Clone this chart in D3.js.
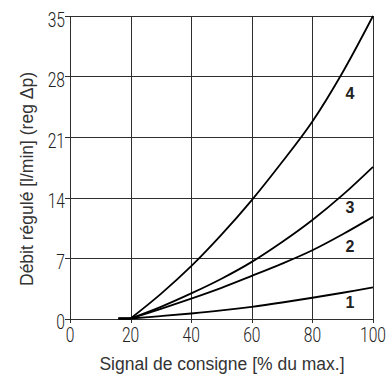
<!DOCTYPE html>
<html>
<head>
<meta charset="utf-8">
<script src="https://cdn.jsdelivr.net/npm/d3@7/dist/d3.min.js"></script>
<style>
  html, body { margin: 0; padding: 0; background: #fff; }
  svg { display: block; }
</style>
</head>
<body>
<svg id="chart" width="387" height="376"></svg>
<script>
// ---- data ----
const xSignal = [16, 20, 30, 40, 50, 60, 70, 80, 90, 100];
const curve1 = [0, 0, 0.28, 0.58, 0.93, 1.35, 1.85, 2.4, 2.98, 3.6];
const curve2 = [0, 0, 1.12, 2.3, 3.55, 4.93, 6.35, 7.9, 9.75, 11.76];
const curve3 = [0, 0, 1.35, 2.9, 4.6, 6.55, 8.85, 11.4, 14.3, 17.55];
const curve4 = [0, 0, 2.85, 6.05, 9.7, 13.7, 18.1, 22.8, 28.5, 35];
const seriesNames = ["1", "2", "3", "4"];
const xTicks = [0, 20, 40, 60, 80, 100];
const yTicks = [0, 7, 14, 21, 28, 35];
const xTitle = "Signal de consigne [% du max.]";
const yTitle = "Débit régulé [l/min] (reg Δp)";

const series = [curve1, curve2, curve3, curve4];

const svg = d3.select("#chart");
const x = d3.scaleLinear().domain([0, 100]).range([70, 373]);
const y = d3.scaleLinear().domain([0, 35]).range([318.5, 16]);

const grid = svg.append("g").attr("shape-rendering", "crispEdges");
grid.selectAll("line.h").data(yTicks).join("line")
  .attr("x1", d => x(0) - 5).attr("x2", x(100))
  .attr("y1", d => Math.round(y(d)) + 0.5).attr("y2", d => Math.round(y(d)) + 0.5)
  .attr("stroke", "#2e2e2e").attr("stroke-width", 1);
grid.selectAll("line.v").data(xTicks).join("line")
  .attr("y1", y(35)).attr("y2", y(0) + 4)
  .attr("x1", d => Math.round(x(d)) + 0.5).attr("x2", d => Math.round(x(d)) + 0.5)
  .attr("stroke", "#2e2e2e").attr("stroke-width", 1);

const tickFont = "Roboto, 'Liberation Sans Narrow', sans-serif";
svg.append("g").selectAll("text").data(yTicks).join("text")
  .attr("transform", d => `translate(${x(0) - 5},${y(d) + 10.5}) scale(0.78,1)`)
  .attr("text-anchor", "end")
  .attr("font-family", tickFont).attr("font-weight", 300)
  .attr("font-size", 20).attr("fill", "#222")
  .text(d => d);
svg.append("g").selectAll("text").data(xTicks).join("text")
  .attr("transform", d => `translate(${x(d)},${y(0) + 23}) scale(0.78,1)`)
  .attr("text-anchor", "middle")
  .attr("font-family", tickFont).attr("font-weight", 300)
  .attr("font-size", 20).attr("fill", "#222")
  .text(d => d);

// curves: straight lead-in tail, then smooth curve from the divergence point
const tail = d3.line().x((d, i) => x(xSignal[i])).y(d => y(d));
const smooth = d3.line()
  .x((d, i) => x(xSignal[i + 1]))
  .y(d => y(d))
  .curve(d3.curveCatmullRom.alpha(0.5));
const cg = svg.append("g").attr("fill", "none").attr("stroke", "#000")
  .attr("stroke-width", 1.8).attr("stroke-linejoin", "round");
cg.selectAll("path.t").data(series).join("path")
  .attr("d", d => tail(d.slice(0, 2)));
cg.selectAll("path.s").data(series).join("path")
  .attr("d", d => smooth(d.slice(1)));

const labelY = [1.16, 7.7, 12.2, 25.4];
svg.append("g").selectAll("text").data(seriesNames).join("text")
  .attr("x", x(92.4)).attr("y", (d, i) => y(labelY[i]))
  .attr("text-anchor", "middle")
  .attr("font-family", "'Liberation Sans', Arial, sans-serif")
  .attr("font-weight", "bold").attr("font-size", 16).attr("fill", "#222")
  .text(d => d);

svg.append("text")
  .attr("x", 222).attr("y", 370)
  .attr("text-anchor", "middle")
  .attr("font-family", "'Liberation Sans', Arial, sans-serif")
  .attr("font-size", 17.5).attr("fill", "#333")
  .text(xTitle);
svg.append("text")
  .attr("transform", "translate(33,179) rotate(-90)")
  .attr("text-anchor", "middle")
  .attr("font-family", "'Liberation Sans', Arial, sans-serif")
  .attr("font-size", 17.5).attr("fill", "#333")
  .text(yTitle);
</script>
</body>
</html>
